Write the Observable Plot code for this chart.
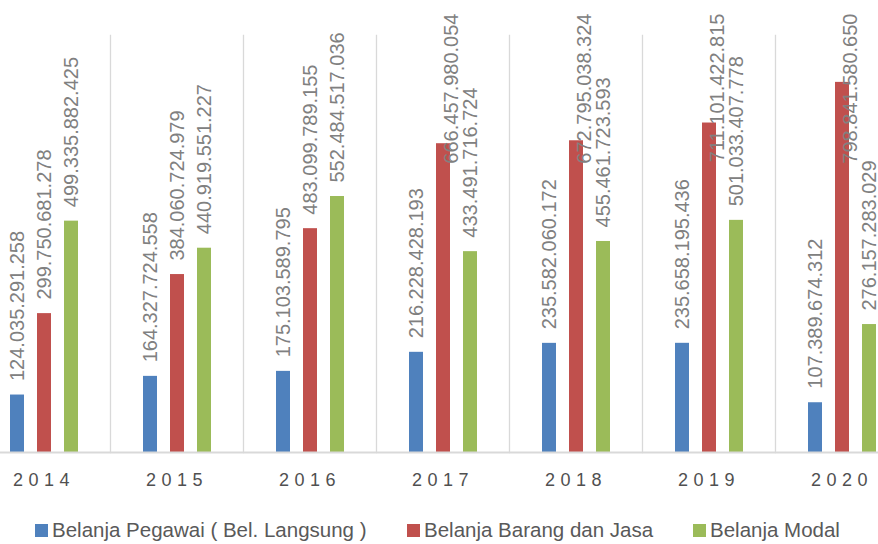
<!DOCTYPE html>
<html>
<head>
<meta charset="utf-8">
<script src="https://cdn.jsdelivr.net/npm/d3@7"></script>
<script src="https://cdn.jsdelivr.net/npm/@observablehq/plot@0.6"></script>
<style>
  html, body { margin: 0; padding: 0; background: #fff; }
  #chart svg { display: block; font-family: "Liberation Sans", Arial, sans-serif; }
  #chart svg [aria-label="fx-axis tick label"] text { letter-spacing: 5.5px; }
  .legend { display: flex; align-items: center; height: 44px; padding-top: 16px; box-sizing: border-box;
    font-family: "Liberation Sans", Arial, sans-serif; font-size: 20.5px; color: #595959; line-height: 24px; }
  .legend .item { display: flex; align-items: center; position: absolute; }
  .legend .sw { width: 13px; height: 13px; margin-right: 4px; }
</style>
</head>
<body>
<div id="chart"></div>
<script>
const years = ["2014", "2015", "2016", "2017", "2018", "2019", "2020"];
const series = ["Belanja Pegawai ( Bel. Langsung )", "Belanja Barang dan Jasa", "Belanja Modal"];
const belanjaPegawai = [124035291258, 164327724558, 175103589795, 216228428193, 235582060172, 235658195436, 107389674312];
const belanjaBarangJasa = [299750681278, 384060724979, 483099789155, 666457980054, 672795038324, 711101422815, 798841580650];
const belanjaModal = [499335882425, 440919551227, 552484517036, 433491716724, 455461723593, 501033407778, 276157283029];
const colors = ["#4F81BD", "#C0504D", "#9BBB59"];

const seriesValues = [belanjaPegawai, belanjaBarangJasa, belanjaModal];
const data = years.flatMap((yr, i) => series.map((s, j) => ({year: yr, series: s, value: seriesValues[j][i]})));
const fmt = v => d3.format(",")(v).replace(/,/g, ".");
const tall = d => d.value > 600e9;

const chart = Plot.plot({
  width: 878,
  height: 500,
  marginTop: 35,
  marginBottom: 48,
  marginLeft: 0,
  marginRight: 0,
  fx: {domain: years, range: [-23.3, 908.6], paddingInner: 0, paddingOuter: 0, label: null, axis: null},
  x: {domain: series, paddingInner: 0.49, paddingOuter: 1.18, axis: null},
  y: {domain: [0, 900e9], axis: null},
  color: {domain: series, range: colors},
  marks: [
    Plot.frame({anchor: "left", stroke: "#d9d9d9", strokeWidth: 1.3}),
    Plot.barY(data, {fx: "year", x: "series", y: "value", fill: "series"}),
    Plot.ruleY([0], {stroke: "#d9d9d9", strokeWidth: 2}),
    Plot.text(data.filter(d => !tall(d)), {fx: "year", x: "series", y: "value", text: d => fmt(d.value),
      rotate: -90, textAnchor: "start", dy: -14, fill: "#808080", fontSize: 20}),
    Plot.text(data.filter(tall), {fx: "year", x: "series", frameAnchor: "top", text: d => fmt(d.value),
      rotate: -90, textAnchor: "end", dy: -22, fill: "#808080", fontSize: 20}),
    Plot.axisFx({anchor: "bottom", tickSize: 0, tickPadding: 21, fontSize: 18, fill: "#505050", label: null})
  ]
});
document.getElementById("chart").appendChild(chart);

const legend = document.createElement("div");
legend.className = "legend";
legend.style.position = "relative";
const lx = [35, 407, 693];
series.forEach((s, i) => {
  const it = document.createElement("div");
  it.className = "item";
  it.style.left = lx[i] + "px";
  const sw = document.createElement("span");
  sw.className = "sw";
  sw.style.background = colors[i];
  const t = document.createElement("span");
  t.textContent = s;
  it.appendChild(sw);
  it.appendChild(t);
  legend.appendChild(it);
});
document.body.appendChild(legend);
</script>
</body>
</html>
